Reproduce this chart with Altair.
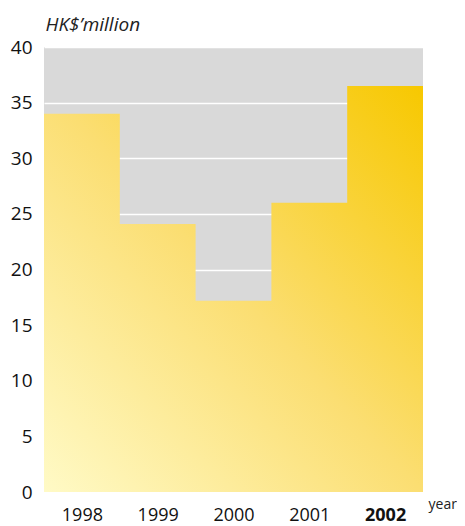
import altair as alt
import pandas as pd

years = ["1998", "1999", "2000", "2001", "2002"]
values = [34.0, 24.1, 17.2, 26.0, 36.5]

# step-after area: one point per year start, plus a closing point
xs = list(range(len(years))) + [len(years)]
ys = values + [values[-1]]
df = pd.DataFrame({"i": xs, "v": ys})

label_arr = "[" + ",".join("'" + y + "'" for y in years) + "]"
centers = [i + 0.5 for i in range(len(years))]

font = "Open Sans"

grad = alt.Gradient(
    gradient="linear",
    x1=0, y1=1, x2=1, y2=0,
    stops=[
        alt.GradientStop(offset=0, color="#FFFAC6"),
        alt.GradientStop(offset=0.5, color="#FBDE72"),
        alt.GradientStop(offset=1, color="#F7C800"),
    ],
)

chart = alt.Chart(df).mark_area(interpolate="step-after", color=grad).encode(
    x=alt.X(
        "i:Q",
        scale=alt.Scale(domain=[0, len(years)], nice=False, zero=False),
        axis=alt.Axis(
            values=centers,
            labelExpr=label_arr + "[round(datum.value - 0.5)]",
            labelFontWeight={"condition": {"test": "datum.value > 4", "value": "bold"}, "value": "normal"},
            grid=False, domain=False, ticks=False,
            labelFont=font, labelFontSize=18, labelColor="#111111",
            labelPadding=14,
            title="year",
            titleFont=font, titleFontSize=14, titleFontWeight="normal", titleColor="#222222",
            titleAnchor="end", titleAlign="left", titleX=384, titleY=16,
            titleBaseline="alphabetic",
        ),
    ),
    y=alt.Y(
        "v:Q",
        scale=alt.Scale(domain=[0, 40], nice=False),
        axis=alt.Axis(
            values=[0, 5, 10, 15, 20, 25, 30, 35, 40],
            grid=True, gridColor="#FFFFFF", gridWidth=1.5,
            domain=False, ticks=False,
            labelFont=font, labelFontSize=19, labelColor="#111111",
            labelPadding=12,
            title="HK$\u2019million",
            titleFont=font, titleFontSize=19, titleFontStyle="italic", titleFontWeight="normal",
            titleColor="#222222", titleAngle=0, titleAlign="left",
            titleX=1, titleY=-17, titleBaseline="alphabetic",
        ),
    ),
).properties(
    width=379,
    height=445,
    autosize=alt.AutoSizeParams(type="none"),
    padding={"left": 36, "top": 39, "right": 34, "bottom": 34},
).configure_view(fill="#D9D9D9", stroke=None)

chart.save("out.html", embed_options={"renderer": "svg", "actions": False})
